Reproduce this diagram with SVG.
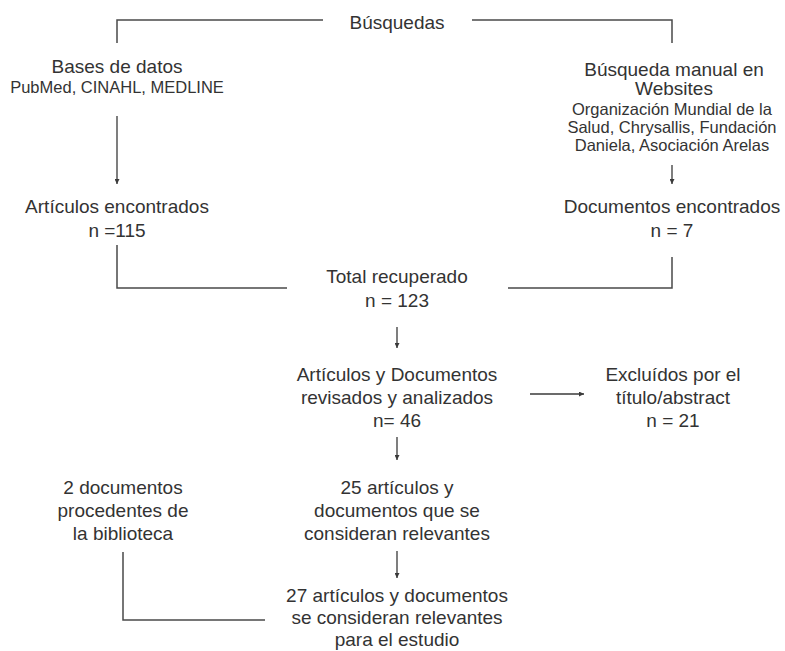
<svg xmlns="http://www.w3.org/2000/svg" width="785" height="651" viewBox="0 0 785 651">
<defs>
<marker id="ah" viewBox="0 0 10 10" refX="10" refY="5" markerWidth="5" markerHeight="5" markerUnits="userSpaceOnUse" orient="auto">
<path d="M0,0 L10,5 L0,10 Z" fill="#3a3a3a"/>
</marker>
<style>
text{font-family:"Liberation Sans",Arial,sans-serif;fill:#333;text-anchor:middle}
.m{font-size:19px}
.s{font-size:16.5px}
.ln{fill:none;stroke:#4a4a4a;stroke-width:1.5}
.ar{fill:none;stroke:#3a3a3a;stroke-width:1.3;marker-end:url(#ah)}
</style>
</defs>
<rect width="785" height="651" fill="#fff"/>
<g id="connectors">
<path class="ln" d="M323,20 H117 V43"/>
<path class="ln" d="M472,20 H672 V43"/>
<path class="ar" d="M117,116 V184"/>
<path class="ar" d="M672,165 V184"/>
<path class="ln" d="M117,245 V288 H287"/>
<path class="ln" d="M672,257 V288 H508"/>
<path class="ar" d="M397,327 V348"/>
<path class="ar" d="M530,394 H584"/>
<path class="ar" d="M397,437 V460"/>
<path class="ar" d="M397,551 V578"/>
<path class="ln" d="M123,552 V620 H265"/>
</g>
<g id="busquedas"><text class="m" x="397" y="29">Búsquedas</text></g>
<g id="bases">
<text class="m" x="117" y="73">Bases de datos</text>
<text class="s" x="117" y="93">PubMed, CINAHL, MEDLINE</text>
</g>
<g id="manual">
<text class="m" x="674" y="76">Búsqueda manual en</text>
<text class="m" x="674" y="95">Websites</text>
<text class="s" x="672" y="115">Organización Mundial de la</text>
<text class="s" x="672" y="133">Salud, Chrysallis, Fundación</text>
<text class="s" x="672" y="151">Daniela, Asociación Arelas</text>
</g>
<g id="articulos">
<text class="m" x="117" y="213">Artículos encontrados</text>
<text class="m" x="117" y="237">n =115</text>
</g>
<g id="documentos">
<text class="m" x="672" y="213">Documentos encontrados</text>
<text class="m" x="672" y="237">n = 7</text>
</g>
<g id="total">
<text class="m" x="397" y="283">Total recuperado</text>
<text class="m" x="397" y="307">n = 123</text>
</g>
<g id="revisados">
<text class="m" x="397" y="381">Artículos y Documentos</text>
<text class="m" x="397" y="404">revisados y analizados</text>
<text class="m" x="397" y="427">n= 46</text>
</g>
<g id="excluidos">
<text class="m" x="673" y="381">Excluídos por el</text>
<text class="m" x="673" y="404">título/abstract</text>
<text class="m" x="673" y="427">n = 21</text>
</g>
<g id="biblioteca">
<text class="m" x="123" y="494">2 documentos</text>
<text class="m" x="123" y="517">procedentes de</text>
<text class="m" x="123" y="540">la biblioteca</text>
</g>
<g id="relevantes25">
<text class="m" x="397" y="494">25 artículos y</text>
<text class="m" x="397" y="517">documentos que se</text>
<text class="m" x="397" y="540">consideran relevantes</text>
</g>
<g id="relevantes27">
<text class="m" x="397" y="602">27 artículos y documentos</text>
<text class="m" x="397" y="624">se consideran relevantes</text>
<text class="m" x="397" y="646">para el estudio</text>
</g>
</svg>
